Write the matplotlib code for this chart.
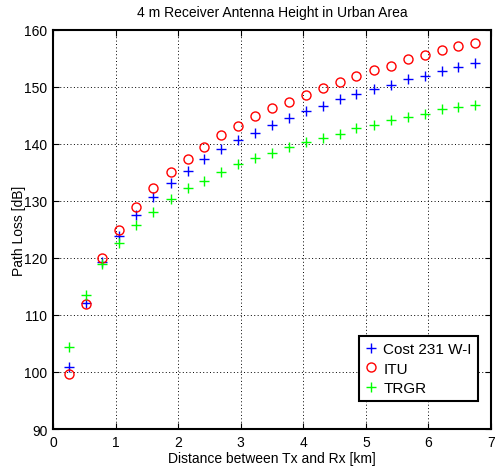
import matplotlib
matplotlib.use("Agg")
import matplotlib.pyplot as plt

plt.rcParams['font.family'] = ['Liberation Sans', 'DejaVu Sans']

distance_km = [0.25, 0.52, 0.79, 1.06, 1.33, 1.60, 1.88, 2.15, 2.42, 2.69, 2.96, 3.23, 3.50,
               3.77, 4.04, 4.31, 4.58, 4.85, 5.13, 5.40, 5.67, 5.94, 6.21, 6.48, 6.75]
cost231 = [100.9, 112.1, 119.2, 123.9, 127.6, 130.7, 133.2, 135.3, 137.4, 139.1, 140.7, 141.9, 143.3,
           144.5, 145.8, 146.6, 147.9, 148.7, 149.6, 150.4, 151.3, 151.9, 152.8, 153.4, 154.2]
itu = [99.7, 112.0, 119.9, 124.9, 128.9, 132.3, 135.0, 137.4, 139.5, 141.5, 143.2, 144.8, 146.2,
       147.4, 148.6, 149.8, 150.9, 151.9, 152.9, 153.7, 154.8, 155.6, 156.4, 157.2, 157.7]
trgr = [104.4, 113.5, 118.9, 122.7, 125.7, 128.1, 130.3, 132.2, 133.5, 135.0, 136.4, 137.5, 138.4,
        139.5, 140.3, 141.1, 141.8, 142.8, 143.3, 144.2, 144.7, 145.2, 146.1, 146.4, 146.8]

xticks = [0, 1, 2, 3, 4, 5, 6, 7]
yticks = [90, 100, 110, 120, 130, 140, 150, 160]

fig = plt.figure(figsize=(4.95, 4.77), dpi=100)
ax = fig.add_axes([0.107, 0.0985, 0.885, 0.837])

ax.plot(distance_km, cost231, linestyle='none', marker='+', color='#0000ff', markersize=7,
        markeredgewidth=1.0, label='Cost 231 W-I')
ax.plot(distance_km, itu, linestyle='none', marker='o', markerfacecolor='none', markeredgecolor='#ff0000',
        markersize=6.5, markeredgewidth=1.0, label='ITU')
ax.plot(distance_km, trgr, linestyle='none', marker='+', color='#00ff00', markersize=7,
        markeredgewidth=1.0, label='TRGR')

ax.set_xlim(0, 7)
ax.set_ylim(90, 160)
ax.set_xticks(xticks)
ax.set_yticks(yticks)
ax.tick_params(direction='in', length=4, labelsize=10, top=True, right=True, pad=4)
ax.grid(True, linestyle=(0, (1, 2.5)), color='black', linewidth=0.7)
for s in ax.spines.values():
    s.set_linewidth(1.5)

ax.set_title('4 m Receiver Antenna Height in Urban Area', fontsize=10, pad=10)
ax.set_xlabel('Distance between Tx and Rx [km]', fontsize=10, labelpad=2)
ax.set_ylabel('Path Loss [dB]', fontsize=10, labelpad=-1)

leg = ax.legend(loc='lower right', bbox_to_anchor=(0.97, 0.07), borderaxespad=0, fontsize=11,
                fancybox=False, framealpha=1, edgecolor='black', handlelength=0.8,
                handletextpad=0.4, borderpad=0.4, labelspacing=0.35)
leg.get_frame().set_linewidth(1.5)

fig.savefig('out.png', dpi=100)
